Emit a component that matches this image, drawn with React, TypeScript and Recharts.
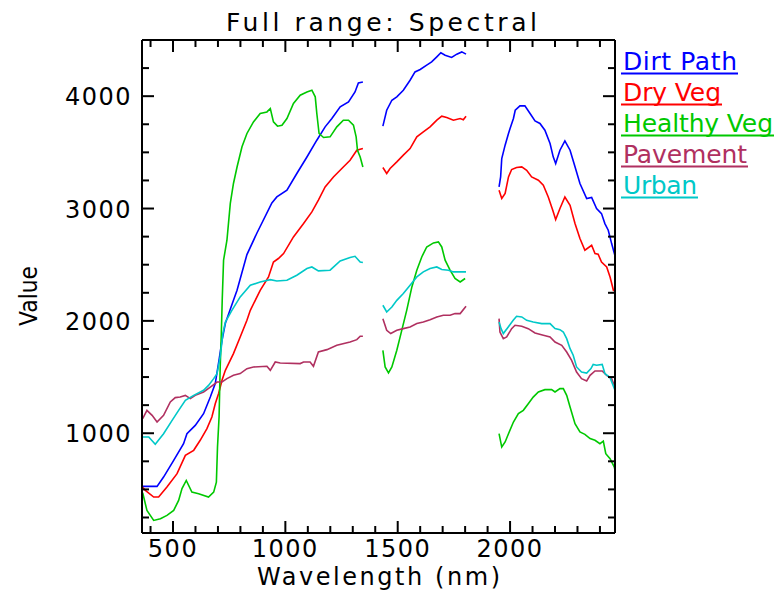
import React from 'react';
import { LineChart, Line, XAxis, YAxis } from 'recharts';

// ---- data (wavelength in nm, value) ; null marks the water-absorption gaps ----
const dirtPathWl = [365, 429, 458, 503, 547, 562, 599, 636, 666, 688, 706, 718, 733, 769, 785, 829, 873, 940, 962, 1007, 1051, 1096, 1140, 1177, 1207, 1244, 1281, 1310, 1325, 1345,
  1390,
  1434, 1451, 1474, 1496, 1525, 1555, 1577, 1600, 1629, 1651, 1674, 1692, 1711, 1740, 1763, 1785, 1804,
  1880,
  1951, 1958, 1963, 1978, 1993, 2000, 2015, 2023, 2044, 2066, 2089, 2111, 2133, 2155, 2178, 2192, 2203, 2222, 2244, 2267, 2289, 2311, 2341, 2363, 2385, 2407, 2422, 2437, 2452, 2467];
const dirtPathVal = [527, 527, 610, 759, 907, 996, 1070, 1174, 1322, 1442, 1667, 1827, 1979, 2183, 2272, 2590, 2780, 3050, 3103, 3163, 3312, 3459, 3608, 3727, 3801, 3905, 3949, 4038, 4118, 4127,
  null,
  3733, 3875, 3964, 3994, 4053, 4142, 4216, 4238, 4276, 4305, 4350, 4386, 4365, 4345, 4374, 4394, 4374,
  null,
  3193, 3281, 3445, 3564, 3668, 3712, 3801, 3875, 3914, 3914, 3846, 3780, 3757, 3697, 3579, 3460, 3400, 3519, 3602, 3519, 3371, 3222, 3089, 3098, 3000, 2955, 2866, 2807, 2688, 2580];

const dryVegWl = [365, 377, 414, 436, 473, 518, 555, 592, 621, 651, 673, 688, 703, 718, 733, 769, 799, 829, 844, 888, 925, 947, 969, 992, 1036, 1081, 1118, 1147, 1177, 1214, 1258, 1288, 1318, 1345,
  1390,
  1434, 1451, 1466, 1496, 1525, 1555, 1585, 1614, 1644, 1674, 1696, 1718, 1748, 1778, 1792, 1804,
  1880,
  1951, 1963, 1978, 1993, 2007, 2029, 2052, 2074, 2096, 2126, 2148, 2170, 2190, 2203, 2222, 2244, 2267, 2289, 2311, 2333, 2363, 2378, 2392, 2407, 2430, 2445, 2460, 2467];
const dryVegVal = [518, 491, 432, 432, 521, 640, 803, 848, 937, 1041, 1144, 1263, 1353, 1471, 1560, 1709, 1857, 2005, 2094, 2272, 2391, 2524, 2555, 2599, 2747, 2866, 2970, 3074, 3192, 3281, 3370, 3430, 3519, 3534,
  null,
  3365, 3312, 3356, 3415, 3475, 3534, 3638, 3682, 3727, 3786, 3822, 3810, 3786, 3801, 3790, 3822,
  null,
  3163, 3089, 3134, 3281, 3347, 3365, 3371, 3341, 3281, 3252, 3207, 3103, 2985, 2902, 3000, 3103, 3029, 2866, 2733, 2629, 2673, 2599, 2593, 2524, 2480, 2391, 2272, 2266];

const healthyVegWl = [365, 384, 414, 444, 473, 503, 525, 540, 559, 584, 614, 658, 681, 693, 698, 705, 710, 715, 719, 725, 740, 755, 769, 785, 807, 829, 858, 888, 918, 933, 947, 965, 985, 1007, 1036, 1066, 1096, 1118, 1133, 1140, 1150, 1170, 1199, 1229, 1258, 1281, 1303, 1315, 1321, 1333, 1345,
  1390,
  1434, 1444, 1459, 1474, 1496, 1518, 1540, 1563, 1585, 1607, 1629, 1659, 1681, 1696, 1711, 1733, 1755, 1778, 1800,
  1880,
  1951, 1963, 1978, 1993, 2015, 2037, 2059, 2081, 2103, 2126, 2155, 2185, 2200, 2222, 2237, 2252, 2267, 2289, 2311, 2333, 2356, 2378, 2400, 2415, 2426, 2445, 2464, 2467];
const healthyVegVal = [470, 313, 224, 239, 269, 313, 402, 507, 580, 476, 462, 432, 476, 565, 877, 1144, 1589, 1887, 2183, 2540, 2718, 3045, 3223, 3370, 3549, 3668, 3771, 3846, 3860, 3890, 3771, 3733, 3742, 3801, 3935, 4009, 4038, 4053, 3994, 3846, 3668, 3632, 3638, 3727, 3786, 3786, 3742, 3638, 3519, 3459, 3370,
  null,
  1738, 1590, 1537, 1590, 1738, 1916, 2094, 2302, 2451, 2569, 2658, 2694, 2703, 2658, 2540, 2451, 2377, 2346, 2377,
  null,
  997, 877, 922, 996, 1100, 1174, 1204, 1263, 1322, 1367, 1388, 1388, 1367, 1397, 1397, 1337, 1233, 1085, 1011, 990, 952, 937, 907, 930, 818, 774, 699, 670];

const pavementWl = [365, 384, 407, 429, 458, 488, 510, 532, 555, 577, 599, 636, 666, 696, 718, 740, 769, 799, 829, 858, 918, 933, 955, 977, 1066, 1081, 1110, 1125, 1147, 1185, 1229, 1288, 1318, 1333, 1345,
  1390,
  1434, 1451, 1469, 1496, 1525, 1555, 1585, 1614, 1644, 1674, 1703, 1733, 1755, 1778, 1804,
  1880,
  1951, 1955, 1970, 1985, 2007, 2022, 2052, 2081, 2111, 2148, 2178, 2200, 2230, 2252, 2274, 2296, 2318, 2341, 2356, 2378, 2410, 2430, 2452, 2467];
const pavementVal = [1130, 1204, 1159, 1100, 1159, 1278, 1317, 1322, 1337, 1308, 1337, 1367, 1411, 1456, 1456, 1486, 1516, 1531, 1575, 1589, 1596, 1560, 1634, 1625, 1620, 1634, 1634, 1596, 1723, 1744, 1783, 1812, 1833, 1863, 1863,
  null,
  2020, 1916, 1887, 1916, 1931, 1946, 1976, 1990, 2011, 2035, 2050, 2050, 2065, 2065, 2130,
  null,
  2020, 1901, 1842, 1857, 1931, 1961, 1952, 1931, 1892, 1872, 1857, 1812, 1783, 1723, 1649, 1545, 1486, 1465, 1515, 1554, 1554, 1515, 1486, 1411];

const urbanWl = [365, 392, 421, 458, 496, 525, 555, 592, 636, 658, 681, 696, 710, 722, 733, 762, 799, 844, 888, 933, 962, 1007, 1051, 1096, 1118, 1147, 1199, 1244, 1288, 1310, 1333, 1345,
  1390,
  1434, 1451, 1474, 1496, 1525, 1555, 1585, 1614, 1644, 1674, 1696, 1726, 1748, 1804,
  1880,
  1951, 1960, 1970, 1992, 2014, 2029, 2052, 2074, 2103, 2141, 2178, 2200, 2222, 2237, 2252, 2267, 2281, 2296, 2318, 2341, 2360, 2370, 2385, 2410, 2422, 2445, 2467];
const urbanVal = [967, 967, 901, 996, 1115, 1204, 1293, 1337, 1382, 1426, 1486, 1531, 1679, 1887, 1990, 2094, 2213, 2317, 2346, 2367, 2355, 2361, 2406, 2466, 2480, 2445, 2451, 2533, 2564, 2575, 2524, 2519,
  null,
  2139, 2079, 2124, 2183, 2243, 2317, 2391, 2436, 2466, 2480, 2457, 2451, 2436, 2436,
  null,
  1990, 1931, 1887, 1946, 2005, 2041, 2035, 2005, 1990, 1976, 1976, 1931, 1922, 1901, 1842, 1753, 1694, 1590, 1545, 1536, 1575, 1613, 1605, 1613, 1531, 1495, 1382];

const seriesNames = ['Dirt Path', 'Dry Veg', 'Healthy Veg', 'Pavement', 'Urban'];
const seriesColors = ['#0000ff', '#ff0000', '#00c800', '#b03060', '#00c8c8'];
const seriesWl = [dirtPathWl, dryVegWl, healthyVegWl, pavementWl, urbanWl];
const seriesVal = [dirtPathVal, dryVegVal, healthyVegVal, pavementVal, urbanVal];

const xTicks = [400, 500, 600, 700, 800, 900, 1000, 1100, 1200, 1300, 1400, 1500, 1600, 1700, 1800, 1900, 2000, 2100, 2200, 2300, 2400];
const xMajorTicks = [500, 1000, 1500, 2000];
const yTicks = [250, 500, 750, 1000, 1250, 1500, 1750, 2000, 2250, 2500, 2750, 3000, 3250, 3500, 3750, 4000, 4250];
const yMajorTicks = [1000, 2000, 3000, 4000];
const xDomain = [362, 2467];
const yDomain = [112, 4500];

const titleText = 'Full range: Spectral';
const xLabelText = 'Wavelength (nm)';
const yLabelText = 'Value';

const FONT = '"DejaVu Sans", sans-serif';
const MAJOR = 12;
const MINOR = 7;

const seriesData = seriesWl.map((wls, i) => wls.map((wl, j) => ({ wl, v: seriesVal[i][j] })));

const BottomTick = (p: any) => {
  const { x, y, payload } = p;
  const major = xMajorTicks.includes(payload.value);
  return (
    <g>
      <line x1={x} x2={x} y1={y} y2={y - (major ? MAJOR : MINOR)} stroke="#000" strokeWidth={2} />
      {major && (
        <text x={x} y={y + 24} textAnchor="middle" fontFamily={FONT} fontSize={24} fill="#000" letterSpacing={1.5}>
          {payload.value}
        </text>
      )}
    </g>
  );
};

const TopTick = (p: any) => {
  const { x, y, payload } = p;
  const major = xMajorTicks.includes(payload.value);
  return <line x1={x} x2={x} y1={y} y2={y + (major ? MAJOR : MINOR)} stroke="#000" strokeWidth={2} />;
};

const LeftTick = (p: any) => {
  const { x, y, payload } = p;
  const major = yMajorTicks.includes(payload.value);
  return (
    <g>
      <line x1={x} x2={x + (major ? MAJOR : MINOR)} y1={y} y2={y} stroke="#000" strokeWidth={2} />
      {major && (
        <text x={x - 10} y={y + 9} textAnchor="end" fontFamily={FONT} fontSize={24} fill="#000" letterSpacing={1.5}>
          {payload.value}
        </text>
      )}
    </g>
  );
};

const RightTick = (p: any) => {
  const { x, y, payload } = p;
  const major = yMajorTicks.includes(payload.value);
  return <line x1={x} x2={x - (major ? MAJOR : MINOR)} y1={y} y2={y} stroke="#000" strokeWidth={2} />;
};

const legendEnds = [738, 722, 774, 748, 698];

export default function App() {
  return (
    <div style={{ position: 'relative', width: 775, height: 596, background: '#fff' }}>
      <style>{'body{margin:0;background:#fff}'}</style>
      <LineChart width={775} height={596} margin={{ top: 30, right: 150, bottom: 33, left: 82 }}>
        <XAxis
          xAxisId={0}
          dataKey="wl"
          type="number"
          orientation="bottom"
          domain={xDomain}
          allowDataOverflow
          ticks={xTicks}
          interval={0}
          tickLine={false}
          tickSize={0}
          tickMargin={0}
          tick={(p: any) => <BottomTick {...p} />}
          axisLine={{ stroke: '#000', strokeWidth: 2 }}
          height={30}
        />
        <XAxis
          xAxisId="top"
          dataKey="wl"
          type="number"
          orientation="top"
          domain={xDomain}
          allowDataOverflow
          ticks={xTicks}
          interval={0}
          tickLine={false}
          tickSize={0}
          tickMargin={0}
          tick={(p: any) => <TopTick {...p} />}
          axisLine={{ stroke: '#000', strokeWidth: 2 }}
          height={10}
        />
        <YAxis
          yAxisId={0}
          type="number"
          orientation="left"
          domain={yDomain}
          allowDataOverflow
          ticks={yTicks}
          interval={0}
          tickLine={false}
          tickSize={0}
          tickMargin={0}
          tick={(p: any) => <LeftTick {...p} />}
          axisLine={{ stroke: '#000', strokeWidth: 2 }}
          width={60}
        />
        <YAxis
          yAxisId="right"
          type="number"
          orientation="right"
          domain={yDomain}
          allowDataOverflow
          ticks={yTicks}
          interval={0}
          tickLine={false}
          tickSize={0}
          tickMargin={0}
          tick={(p: any) => <RightTick {...p} />}
          axisLine={{ stroke: '#000', strokeWidth: 2 }}
          width={10}
        />
        {seriesNames.map((name, i) => (
          <Line
            key={name}
            name={name}
            data={seriesData[i]}
            dataKey="v"
            xAxisId={0}
            yAxisId={0}
            type="linear"
            stroke={seriesColors[i]}
            strokeWidth={1.6}
            dot={false}
            activeDot={false}
            connectNulls={false}
            isAnimationActive={false}
          />
        ))}
      </LineChart>
      <svg width={775} height={596} style={{ position: 'absolute', left: 0, top: 0, pointerEvents: 'none' }}>
        <text x={226} y={31} fontFamily={FONT} fontSize={25} fill="#000" textLength={311} lengthAdjust="spacing">
          {titleText}
        </text>
        <text x={257} y={585} fontFamily={FONT} fontSize={24} fill="#000" textLength={243} lengthAdjust="spacing">
          {xLabelText}
        </text>
        <text
          x={0}
          y={0}
          transform="translate(37,326) rotate(-90)"
          fontFamily={FONT}
          fontSize={24}
          fill="#000"
          textLength={60}
          lengthAdjust="spacingAndGlyphs"
        >
          {yLabelText}
        </text>
        {seriesNames.map((name, i) => (
          <g key={name}>
            <text
              x={623}
              y={70 + 31 * i}
              fontFamily={FONT}
              fontSize={25}
              fill={seriesColors[i]}
              textLength={legendEnds[i] - 624}
              lengthAdjust="spacing"
            >
              {name}
            </text>
            <line x1={621} x2={legendEnds[i]} y1={73.5 + 31 * i} y2={73.5 + 31 * i} stroke={seriesColors[i]} strokeWidth={2} />
          </g>
        ))}
      </svg>
    </div>
  );
}
